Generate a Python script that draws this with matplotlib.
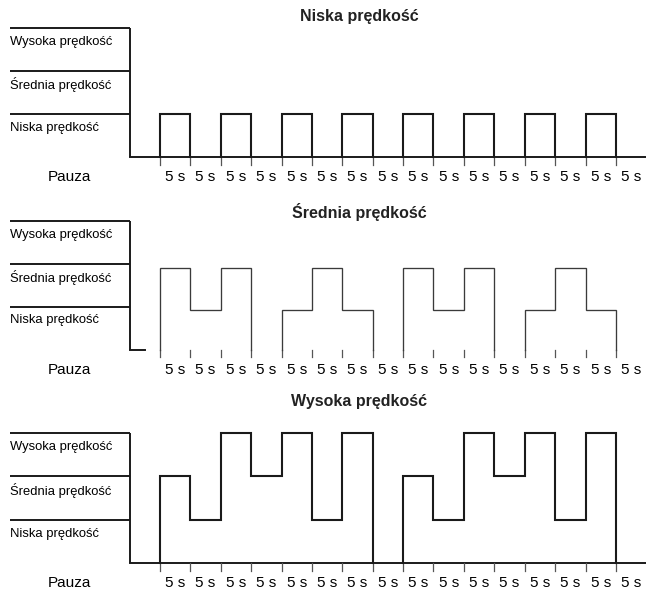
import matplotlib.pyplot as plt

plt.rcParams['font.family'] = ['Liberation Sans', 'DejaVu Sans']

# speed levels (0 = pauza)
level_names = ['Niska prędkość', 'Średnia prędkość', 'Wysoka prędkość']
pause_label = 'Pauza'
step_label = '5 s'
step = 5            # seconds per segment
n_labels = 16       # "5 s" labels under each axis

# one value per 5 s segment, starting at t = 0
titles = ['Niska prędkość', 'Średnia prędkość', 'Wysoka prędkość']
N, S, W = 1, 2, 3
seq_low = [0, N, 0, N, 0, N, 0, N, 0, N, 0, N, 0, N, 0, N, 0]
# the medium program is drawn a bit off the guide lines in the original
n2, s2 = 0.93, 1.9
seq_mid = [0, s2, n2, s2, 0, n2, s2, n2, 0, s2, n2, s2, 0, n2, s2, n2, 0]
seq_high = [0, S, N, W, S, W, N, W, 0, S, N, W, S, W, N, W, 0]
sequences = [seq_low, seq_mid, seq_high]

# layout in pixels: baseline y, level spacing, title level
W_PX, H_PX = 646, 589
panels = [(157, 43.0, 3.26), (349.5, 42.8, 3.21), (563, 43.3, 3.72)]
full_baseline = [True, False, True]
wave_lw = [1.5, 0.95, 1.5]
wave_col = ['#1a1a1a', '#3a3a3a', '#1a1a1a']

x0_px = 129.5
px_per_s = 30.4 / step
xmin = -x0_px / px_per_s
xmax = (W_PX - x0_px) / px_per_s
ylo, yhi = -0.6, 3.5

fig = plt.figure(figsize=(W_PX / 100, H_PX / 100), dpi=100)

for (yb, sp, ty), title, seq, full, lw, col in zip(
        panels, titles, sequences, full_baseline, wave_lw, wave_col):
    top = yb - yhi * sp
    bot = yb - ylo * sp
    ax = fig.add_axes([0, 1 - bot / H_PX, 1, (bot - top) / H_PX])
    ax.set_xlim(xmin, xmax)
    ax.set_ylim(ylo, yhi)
    ax.axis('off')

    left = xmin + 9.5 / px_per_s
    # guide lines + level names
    for lv, name in zip([1, 2, 3], level_names):
        ax.plot([left, 0], [lv, lv], color='#1a1a1a', lw=1.4,
                solid_capstyle='butt')
        ax.text(left + 0.1, lv - 0.32, name, fontsize=9.4, va='center',
                ha='left', color='black')
    ax.plot([0, 0], [0, 3], color='#1a1a1a', lw=1.4, solid_capstyle='butt')

    # baseline
    if full:
        ax.plot([0, xmax], [0, 0], color='#1a1a1a', lw=1.4)
    else:
        ax.plot([0, 2.5], [0, 0], color='#1a1a1a', lw=1.4)

    # ticks and labels
    for k in range(1, len(seq)):
        t = k * step
        ax.plot([t, t], [0, -0.18], color='#555555', lw=0.9)
    for k in range(n_labels):
        ax.text(step * (k + 1.5), -0.47, step_label, fontsize=11,
                ha='center', va='center')
    ax.text(-9.8, -0.47, pause_label, fontsize=11, ha='center', va='center')

    # waveform, one run of non-zero segments at a time
    i = 0
    while i < len(seq):
        if seq[i] == 0:
            i += 1
            continue
        j = i
        xs, ys = [i * step], [0]
        while j < len(seq) and seq[j] != 0:
            xs += [j * step, (j + 1) * step]
            ys += [seq[j], seq[j]]
            j += 1
        xs.append(j * step)
        ys.append(0)
        ax.plot(xs, ys, color=col, lw=lw, solid_joinstyle='miter')
        i = j

    ax.text(37.8, ty, title, fontsize=11.5, fontweight='bold', ha='center',
            va='center', color='#222222')

fig.savefig('out.png', dpi=100)
